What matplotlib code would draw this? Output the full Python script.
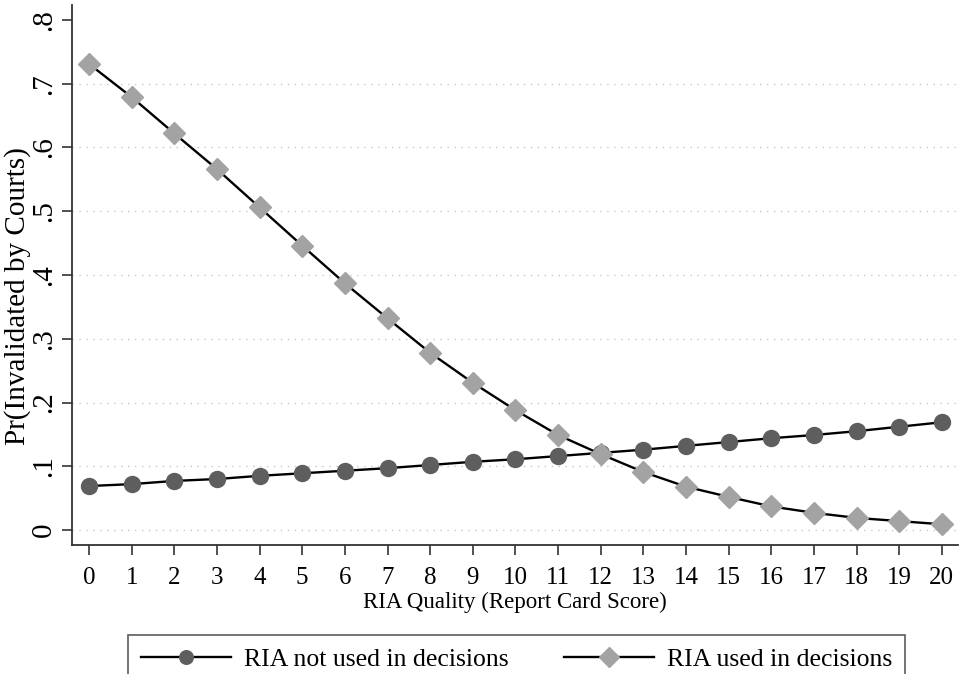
import matplotlib
matplotlib.use("Agg")
import matplotlib.pyplot as plt

x = list(range(21))
not_used = [0.069, 0.072, 0.077, 0.080, 0.085, 0.089, 0.093, 0.097, 0.102, 0.107, 0.111,
            0.116, 0.121, 0.126, 0.132, 0.138, 0.144, 0.149, 0.155, 0.162, 0.169]
used = [0.731, 0.679, 0.622, 0.566, 0.506, 0.446, 0.387, 0.332, 0.278, 0.231, 0.188,
        0.149, 0.119, 0.091, 0.068, 0.052, 0.037, 0.027, 0.019, 0.014, 0.009]
yticks = [0, 0.1, 0.2, 0.3, 0.4, 0.5, 0.6, 0.7, 0.8]
ytick_labels = ["0", ".1", ".2", ".3", ".4", ".5", ".6", ".7", ".8"]

plt.rcParams['font.family'] = ['Liberation Serif', 'DejaVu Serif']

W, H = 959, 674
fig = plt.figure(figsize=(W/100, H/100), dpi=100)
ax = fig.add_axes([72/W, (H-545)/H, (958-72)/W, (545-5)/H])

ax.plot(x, not_used, color='black', lw=1.7, marker='o', markersize=11.5,
        markerfacecolor='#5e5e5e', markeredgecolor='#5e5e5e', label='RIA not used in decisions', zorder=3)
ax.plot(x, used, color='black', lw=1.7, marker='D', markersize=11.5,
        markerfacecolor='#a3a3a3', markeredgecolor='#a3a3a3', label='RIA used in decisions', zorder=3)

ax.set_xlim(-0.4, 20.38)
ax.set_ylim(-0.0235, 0.8235)
ax.set_xticks(x)
ax.set_xticklabels([str(i) for i in x], fontsize=18)
ax.set_yticks(yticks)
ax.set_yticklabels(ytick_labels, fontsize=21, rotation=90, va='center')
for yv in yticks[:-1]:
    ax.axhline(yv, color='#c8c8c8', lw=1.0, ls=(0, (1, 4)), zorder=1)
ax.spines['top'].set_visible(False)
ax.spines['right'].set_visible(False)
ax.spines['left'].set_color('#333333')
ax.spines['bottom'].set_color('#333333')
ax.spines['left'].set_linewidth(1.3)
ax.spines['bottom'].set_linewidth(1.3)
ax.tick_params(axis='x', length=7, width=1.2, color='#333333', pad=9)
ax.tick_params(axis='y', length=7, width=1.2, color='#333333', pad=4)
ax.set_xlabel('RIA Quality (Report Card Score)', fontsize=16.5, labelpad=2)
ax.set_ylabel('Pr(Invalidated by Courts)', fontsize=21)
ax.yaxis.set_label_coords(-0.046, 0.461)

leg = fig.legend(loc='lower left', bbox_to_anchor=(128/W, -10/H, (905-128)/W, (674-628+10)/H),
                 mode='expand', ncol=2, fontsize=18.5, frameon=True, fancybox=False,
                 edgecolor='#333333', handlelength=3.5, handletextpad=0.5, borderaxespad=0,
                 borderpad=0.5, columnspacing=1.5, markerscale=0.85)
leg.get_frame().set_linewidth(1.2)

fig.savefig('out.png', dpi=100)
